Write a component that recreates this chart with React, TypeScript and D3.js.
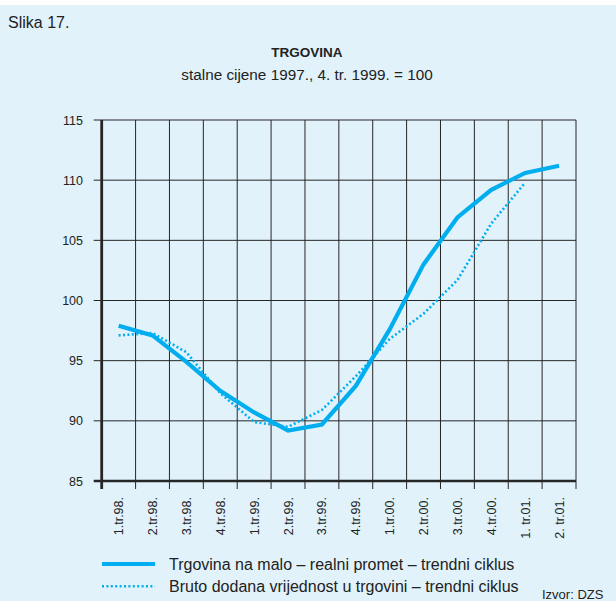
import React from "react";
import * as d3 from "d3";

const categories = [
  "1.tr.98.", "2.tr.98.", "3.tr.98.", "4.tr.98.",
  "1.tr.99.", "2.tr.99.", "3.tr.99.", "4.tr.99.",
  "1.tr.00.", "2.tr.00.", "3.tr.00.", "4.tr.00.",
  "1. tr.01.", "2. tr.01.",
];

const retailTrend = [97.9, 97.1, 94.9, 92.5, 90.7, 89.2, 89.7, 92.9, 97.6, 103.0, 106.9, 109.2, 110.6, 111.2];
const gvaTrend = [97.1, 97.3, 95.7, 92.3, 89.9, 89.5, 90.9, 93.7, 96.8, 98.9, 101.7, 106.4, 109.8, null];

const yTicks = [85, 90, 95, 100, 105, 110, 115];

const title = "TRGOVINA";
const subtitle = "stalne cijene 1997., 4. tr. 1999. = 100";
const figLabel = "Slika 17.";
const legendLabels = [
  "Trgovina na malo – realni promet – trendni ciklus",
  "Bruto dodana vrijednost u trgovini – trendni ciklus",
];
const source = "Izvor: DZS";

const W = 616;
const H = 601;
const left = 101.7;
const right = 576;
const top = 120;
const bottom = 481;
const lineColor = "#00aeef";
const gridColor = "#262626";
const font = "'Liberation Sans', Arial, Helvetica, sans-serif";

export default function App() {
  const x = d3.scaleBand<string>().domain(categories).range([left, right]).padding(0);
  const y = d3.scaleLinear().domain([85, 115]).range([bottom, top]);
  const cx = (i: number) => (x(categories[i]) as number) + x.bandwidth() / 2;

  const line = d3
    .line<number | null>()
    .defined((d) => d !== null)
    .x((_, i) => cx(i))
    .y((d) => y(d as number));

  const boundaries = categories.map((c) => x(c) as number).concat([right]);

  return (
    <svg
      width={W}
      height={H}
      style={{ position: "absolute", left: 0, top: 0, fontFamily: font }}
    >
      <rect x={0} y={0} width={W} height={H} fill="#ffffff" />
      <rect x={0} y={5} width={W} height={H - 5} fill="#e1f2fb" />

      <text x={8} y={28} fontSize={16} fill="#222">{figLabel}</text>
      <text x={307} y={57} fontSize={13.5} fontWeight="bold" textAnchor="middle" fill="#222">{title}</text>
      <text x={307} y={80} fontSize={15.3} textAnchor="middle" fill="#222">{subtitle}</text>

      {/* horizontal grid */}
      {yTicks.map((t) => (
        <g key={"h" + t}>
          <line x1={left - 8} x2={right} y1={y(t)} y2={y(t)} stroke={gridColor} strokeWidth={t === 85 ? 2.5 : 1} />
          <text x={83} y={y(t) + 4.5} fontSize={12.5} textAnchor="end" fill="#222">{t}</text>
        </g>
      ))}
      {/* vertical grid */}
      {boundaries.map((b, i) => (
        <line
          key={"v" + i}
          x1={b}
          x2={b}
          y1={top}
          y2={bottom + 8}
          stroke={gridColor}
          strokeWidth={i === 0 ? 2.8 : 1}
        />
      ))}

      {/* x labels */}
      {categories.map((c, i) => (
        <text
          key={c}
          transform={`translate(${cx(i) + 4.5},497) rotate(-90)`}
          fontSize={12.5}
          textAnchor="end"
          fill="#222"
        >
          {c}
        </text>
      ))}

      <path d={line(gvaTrend) || ""} fill="none" stroke={lineColor} strokeWidth={2.6} strokeDasharray="2,2.4" />
      <path d={line(retailTrend) || ""} fill="none" stroke={lineColor} strokeWidth={4.2} strokeLinejoin="miter" />

      {/* legend */}
      <line x1={102} x2={155} y1={564} y2={564} stroke={lineColor} strokeWidth={4} />
      <line x1={102} x2={155} y1={586.3} y2={586.3} stroke={lineColor} strokeWidth={2.6} strokeDasharray="2,2.4" />
      <text x={169} y={569.5} fontSize={16} fill="#222">{legendLabels[0]}</text>
      <text x={169} y={591.5} fontSize={16} fill="#222">{legendLabels[1]}</text>
      <text x={542} y={599} fontSize={13} fill="#222">{source}</text>
    </svg>
  );
}
